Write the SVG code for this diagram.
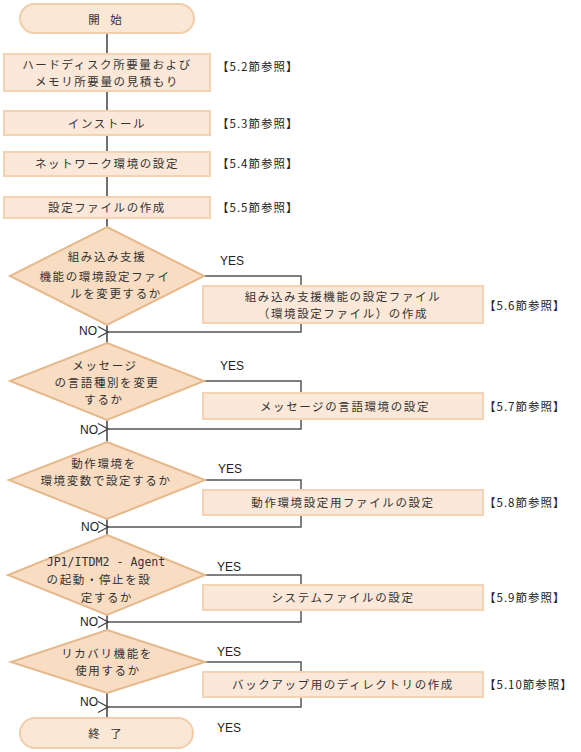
<svg xmlns="http://www.w3.org/2000/svg" width="581" height="752" viewBox="0 0 581 752">
<defs>
<style>
.pill{fill:#FBE7D6;stroke:#F2CDAA;stroke-width:2}
.box{fill:#FBE8D9;stroke:#F4D3B4;stroke-width:2}
.dia{fill:#F8DDC3;stroke:#E6B98C;stroke-width:2}
.t{font-family:"Noto Sans CJK JP","Noto Sans",sans-serif;font-size:11.5px;fill:#333;text-anchor:middle;dominant-baseline:central;letter-spacing:1.6px}
.ref{font-family:"Noto Sans CJK JP","Noto Sans",sans-serif;font-size:11.5px;fill:#222;dominant-baseline:central;letter-spacing:1px}
.yn{font-family:"Liberation Sans",Arial,sans-serif;font-size:12px;fill:#222;dominant-baseline:central}
.mono{font-family:"DejaVu Sans Mono","Liberation Mono",monospace;font-size:11.6px;fill:#333;text-anchor:middle;dominant-baseline:central}
.wide{letter-spacing:4px}
.main{stroke:#707070;stroke-width:2;fill:none}
.br{stroke:#555;stroke-width:1.5;fill:none}
</style>
<marker id="arr" viewBox="0 0 12 12" refX="1" refY="6" markerWidth="12" markerHeight="12" markerUnits="userSpaceOnUse" orient="auto">
<path d="M11,0.5 L1,6 L11,11.5" fill="none" stroke="#444" stroke-width="1.2"/>
</marker>
</defs>
<g id="connectors">
<path class="main" d="M107,33V53 M107,91V110 M107,135V151 M107,176V197 M107,218V227 M107,325V343 M107,420V442 M107,519V535 M107,615V630 M107,693V718"/>
<path class="br" d="M204,276H301V286"/>
<path class="br" d="M301,323V332H108" marker-end="url(#arr)"/>
<path class="br" d="M204,381H301V393"/>
<path class="br" d="M301,419V429H108" marker-end="url(#arr)"/>
<path class="br" d="M205,480H301V490"/>
<path class="br" d="M301,515V527H108" marker-end="url(#arr)"/>
<path class="br" d="M205,575H301V585"/>
<path class="br" d="M301,610V622H108" marker-end="url(#arr)"/>
<path class="br" d="M205,662H301V672"/>
<path class="br" d="M301,697V707H108" marker-end="url(#arr)"/>
</g>
<g id="start"><rect class="pill" x="20" y="4" width="174" height="29" rx="14.5"/><text class="t wide" x="107" y="19">開 始</text></g>
<g id="step1"><rect class="box" x="4" y="54" width="206" height="37"/><text class="t" x="107" y="63.5">ハードディスク所要量および</text><text class="t" x="107" y="80.5">メモリ所要量の見積もり</text><text class="ref" x="217" y="66">【5.2節参照】</text></g>
<g id="step2"><rect class="box" x="4" y="111" width="206" height="24"/><text class="t" x="107" y="123">インストール</text><text class="ref" x="217" y="123">【5.3節参照】</text></g>
<g id="step3"><rect class="box" x="4" y="152" width="206" height="24"/><text class="t" x="107" y="163">ネットワーク環境の設定</text><text class="ref" x="217" y="163">【5.4節参照】</text></g>
<g id="step4"><rect class="box" x="4" y="197" width="206" height="21"/><text class="t" x="107" y="207">設定ファイルの作成</text><text class="ref" x="217" y="207">【5.5節参照】</text></g>
<g id="dec1"><polygon class="dia" points="107,227 204,276 107,325 10,276"/><text class="t" x="107" y="256">組み込み支援</text><text class="t" x="105" y="276">機能の環境設定ファイ</text><text class="t" x="116" y="293">ルを変更するか</text><text class="yn" x="220" y="261">YES</text><text class="yn" x="79" y="331">NO</text></g>
<g id="act1"><rect class="box" x="203" y="286" width="280" height="37"/><text class="t" x="343" y="295.5">組み込み支援機能の設定ファイル</text><text class="t" x="343" y="313">（環境設定ファイル）の作成</text><text class="ref" x="484" y="305">【5.6節参照】</text></g>
<g id="dec2"><polygon class="dia" points="107,343 204,381 107,420 10,381"/><text class="t" x="105" y="364.5">メッセージ</text><text class="t" x="107" y="381.5">の言語種別を変更</text><text class="t" x="104" y="398.5">するか</text><text class="yn" x="220" y="366">YES</text><text class="yn" x="80" y="430">NO</text></g>
<g id="act2"><rect class="box" x="203" y="393" width="280" height="26"/><text class="t" x="345" y="406">メッセージの言語環境の設定</text><text class="ref" x="484" y="406">【5.7節参照】</text></g>
<g id="dec3"><polygon class="dia" points="107,442 205,480 107,519 9,480"/><text class="t" x="104" y="463">動作環境を</text><text class="t" x="106" y="480">環境変数で設定するか</text><text class="yn" x="218" y="469">YES</text><text class="yn" x="81" y="527">NO</text></g>
<g id="act3"><rect class="box" x="203" y="490" width="280" height="25"/><text class="t" x="343" y="502">動作環境設定用ファイルの設定</text><text class="ref" x="484" y="502">【5.8節参照】</text></g>
<g id="dec4"><polygon class="dia" points="107,535 205,575 107,615 8,575"/><text class="mono" x="106" y="562">JP1/ITDM2 - Agent</text><text class="t" x="99" y="579">の起動・停止を設</text><text class="t" x="107" y="596.5">定するか</text><text class="yn" x="217" y="567">YES</text><text class="yn" x="80" y="622">NO</text></g>
<g id="act4"><rect class="box" x="203" y="585" width="280" height="25"/><text class="t" x="343" y="597">システムファイルの設定</text><text class="ref" x="484" y="597">【5.9節参照】</text></g>
<g id="dec5"><polygon class="dia" points="107,630 205,662 107,693 11,662"/><text class="t" x="107" y="652.5">リカバリ機能を</text><text class="t" x="108" y="669.5">使用するか</text><text class="yn" x="217" y="652">YES</text><text class="yn" x="80" y="702">NO</text></g>
<g id="act5"><rect class="box" x="203" y="672" width="280" height="25"/><text class="t" x="343" y="684">バックアップ用のディレクトリの作成</text><text class="ref" x="484" y="684">【5.10節参照】</text></g>
<g id="end"><rect class="pill" x="20" y="718" width="173" height="30" rx="15"/><text class="t wide" x="107" y="733">終 了</text><text class="yn" x="217" y="728">YES</text></g>
</svg>
